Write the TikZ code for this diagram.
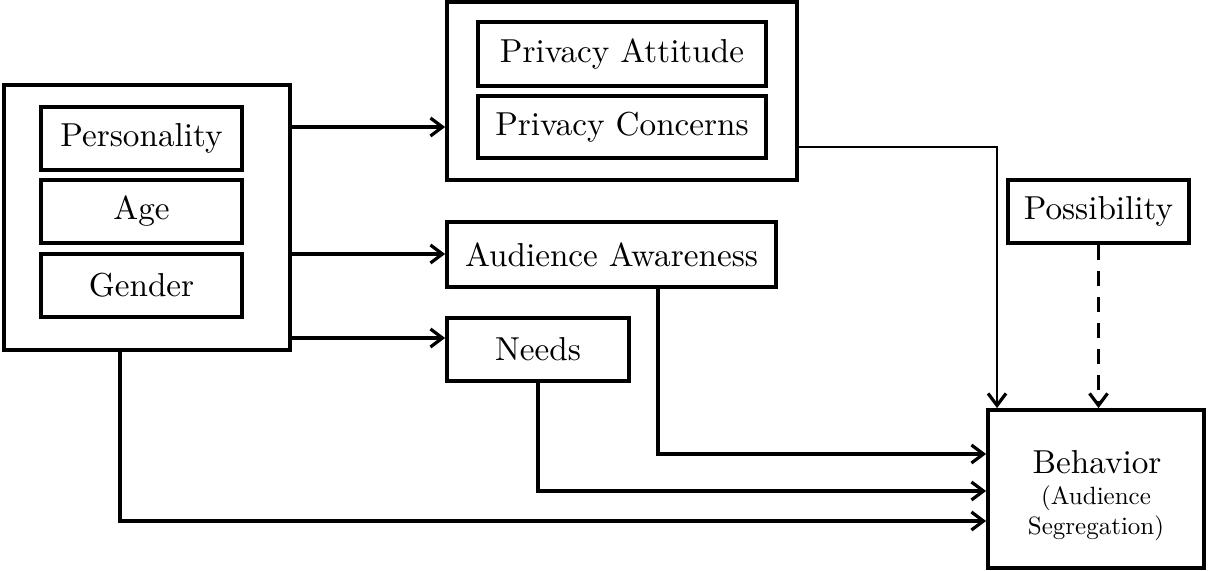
\documentclass[tikz,border=0pt]{standalone}
\usepackage{fontspec}
\setmainfont{lmroman10-regular.otf}
\usetikzlibrary{arrows.meta}
\begin{document}
\begin{tikzpicture}[x=0.5pt,y=-0.5pt,
  box/.style={draw,line width=1.9pt,rectangle,inner sep=0pt,font=\fontsize{16.6}{20}\selectfont},
  arr/.style={line width=1.6pt,-{Straight Barb[length=6pt,width=9pt,line width=1.6pt]}},
  thin arr/.style={line width=1.2pt,-{Straight Barb[length=6pt,width=9pt,line width=1.6pt]}}]
\useasboundingbox (0,0) rectangle (1208,571);
% left group
\node[box,minimum width=143pt,minimum height=132.5pt] (left) at (147,217.5) {};
\node[box,minimum width=100.5pt,minimum height=31.5pt] (pers) at (141.5,138.5) {Personality};
\node[box,minimum width=100.5pt,minimum height=31.5pt] (age) at (141.5,211.5) {Age};
\node[box,minimum width=100.5pt,minimum height=31.5pt] (gender) at (141.5,285.5) {Gender};
% privacy group
\node[box,minimum width=175pt,minimum height=89pt] (priv) at (622,91) {};
\node[box,minimum width=144pt,minimum height=32pt] (pa) at (622,54) {Privacy Attitude};
\node[box,minimum width=144pt,minimum height=31pt] (pc) at (622,127) {Privacy Concerns};
% others
\node[box,minimum width=164.5pt,minimum height=32.5pt] (aa) at (611.5,254.5) {Audience Awareness};
\node[box,minimum width=91pt,minimum height=31.5pt] (needs) at (538,349.5) {Needs};
\node[box,minimum width=90.5pt,minimum height=31.5pt] (poss) at (1098.5,211.5) {Possibility};
\node[box,minimum width=108pt,minimum height=79pt] (beh) at (1096,489) {};
\node[font=\fontsize{16.6}{20}\selectfont,inner sep=0pt] (behT) at (1097,462) {Behavior};
\node[font=\fontsize{12.5}{15}\selectfont,inner sep=0pt] (behA) at (1096,498) {(Audience};
\node[font=\fontsize{12.5}{15}\selectfont,inner sep=0pt] (behS) at (1096,528) {Segregation)};
% helper coordinates
\coordinate (y1) at (0,127);
\coordinate (y2) at (0,254);
\coordinate (y3) at (0,338);
\coordinate (y4) at (0,147);
\coordinate (x4) at (997,0);
\coordinate (x5) at (658,0);
\coordinate (x6) at (120,0);
\coordinate (y5) at (0,454);
\coordinate (y6) at (0,491);
\coordinate (y7) at (0,521);
% arrows
\draw[arr] (left.east |- y1) -- (priv.west |- y1);
\draw[arr] (left.east |- y2) -- (aa.west |- y2);
\draw[arr] (left.east |- y3) -- (needs.west |- y3);
\draw[thin arr] (priv.east |- y4) -| (beh.north -| x4);
\draw[arr,dash pattern=on 7.5pt off 5.5pt] (poss.south) -- (poss.south |- beh.north);
\draw[arr] (aa.south -| x5) |- (beh.west |- y5);
\draw[arr] (needs.south) |- (beh.west |- y6);
\draw[arr] (left.south -| x6) |- (beh.west |- y7);
\end{tikzpicture}
\end{document}
